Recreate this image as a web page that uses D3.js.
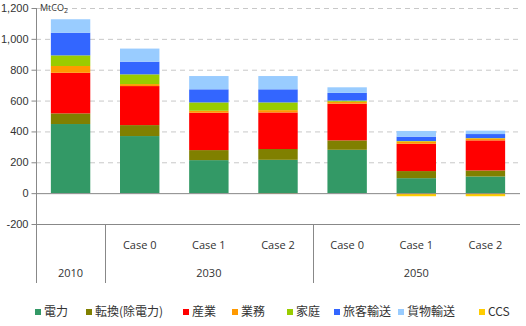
<!DOCTYPE html>
<html>
<head>
<meta charset="utf-8">
<script src="https://cdn.jsdelivr.net/npm/d3@7"></script>
<style>
  body { margin: 0; background: #fff; }
  svg { display: block; font-family: "Open Sans", "Noto Sans CJK JP", sans-serif; }
</style>
</head>
<body>
<div id="chart"></div>
<script>
// categories (year / case)
const categories = ['2010', '2030-0', '2030-1', '2030-2', '2050-0', '2050-1', '2050-2'];
const caseLabels = ['', 'Case 0', 'Case 1', 'Case 2', 'Case 0', 'Case 1', 'Case 2'];
const yearGroups = [
    { label: '2010', from: 0, to: 0 },
    { label: '2030', from: 1, to: 3 },
    { label: '2050', from: 4, to: 6 }
];

// series (MtCO2)
const seriesNames = ['電力', '転換(除電力)', '産業', '業務', '家庭', '旅客輸送', '貨物輸送', 'CCS'];
const denryoku = [448, 370, 214, 216, 281, 97, 108];
const tenkan = [69, 71, 65, 70, 61, 46, 39];
const sangyo = [263, 253, 242, 237, 238, 177, 195];
const gyomu = [44, 13, 13, 15, 12, 15, 13];
const katei = [69, 63, 54, 50, 8, 3, 2];
const ryokaku = [147, 82, 85, 85, 50, 28, 26];
const kamotsu = [87, 85, 86, 86, 36, 37, 22];
const ccs = [0, 0, 0, -4, 0, -20, -20];
const seriesValues = [denryoku, tenkan, sangyo, gyomu, katei, ryokaku, kamotsu, ccs];
const seriesColors = ['#339966', '#808000', '#ff0000', '#ff9900', '#99cc00', '#3366ff', '#99ccff', '#ffcc00'];

const yTicks = [-200, 0, 200, 400, 600, 800, 1000, 1200];

const width = 526, height = 326;
const margin = { top: 8, right: 6, bottom: 102, left: 36 };

const svg = d3.select('#chart').append('svg')
    .attr('width', width)
    .attr('height', height);

const x = d3.scaleBand()
    .domain(categories)
    .range([margin.left, width - margin.right])
    .paddingInner(0.43)
    .paddingOuter(0.215);

const y = d3.scaleLinear()
    .domain([-200, 1200])
    .range([height - margin.bottom, margin.top]);

// table for the stack
const table = categories.map((c, i) => {
    const row = { key: c };
    seriesNames.forEach((s, j) => { row[s] = seriesValues[j][i]; });
    return row;
});

const stacked = d3.stack()
    .keys(seriesNames)
    .offset(d3.stackOffsetDiverging)(table);

// gridlines
svg.append('g')
    .selectAll('line')
    .data(yTicks.filter(t => t > 0))
    .enter()
    .append('line')
    .attr('x1', margin.left)
    .attr('x2', width - margin.right)
    .attr('y1', d => y(d) + 0.5)
    .attr('y2', d => y(d) + 0.5)
    .attr('stroke', '#c8c8c8')
    .attr('stroke-dasharray', '5,4');

// bars
svg.append('g')
    .selectAll('g')
    .data(stacked)
    .enter()
    .append('g')
    .attr('fill', (d, i) => seriesColors[i])
    .selectAll('rect')
    .data(d => d)
    .enter()
    .append('rect')
    .attr('x', d => x(d.data.key))
    .attr('width', x.bandwidth())
    .attr('y', d => y(Math.max(d[0], d[1])))
    .attr('height', d => Math.abs(y(d[0]) - y(d[1])));

// zero line and bottom line
svg.append('line')
    .attr('x1', margin.left).attr('x2', width - margin.right)
    .attr('y1', y(0) + 0.5).attr('y2', y(0) + 0.5)
    .attr('stroke', '#888');

svg.append('line')
    .attr('x1', margin.left).attr('x2', width - margin.right)
    .attr('y1', y(-200) + 0.5).attr('y2', y(-200) + 0.5)
    .attr('stroke', '#888');

// y axis
const yAxis = svg.append('g')
    .attr('transform', `translate(${margin.left + 0.5},0)`)
    .call(d3.axisLeft(y)
        .tickValues(yTicks)
        .tickSize(5)
        .tickPadding(3)
        .tickFormat(d => d3.format(',')(d).replace('−', '-')));
yAxis.select('.domain').remove();
yAxis.selectAll('.tick line').attr('stroke', '#888');
yAxis.selectAll('text')
    .style('font-size', '11px')
    .attr('fill', '#333');

// y axis line extended into category area
const catBottom = 283;
svg.append('line')
    .attr('x1', margin.left + 0.5).attr('x2', margin.left + 0.5)
    .attr('y1', margin.top).attr('y2', catBottom)
    .attr('stroke', '#888');

// group separators
yearGroups.slice(1).forEach(g => {
    const sx = Math.round(x(categories[g.from]) - x.step() * x.paddingInner() / 2) + 0.5;
    svg.append('line')
        .attr('x1', sx).attr('x2', sx)
        .attr('y1', y(-200)).attr('y2', catBottom)
        .attr('stroke', '#888');
});

// case labels
svg.append('g')
    .selectAll('text')
    .data(categories)
    .enter()
    .append('text')
    .attr('x', d => x(d) + x.bandwidth() / 2)
    .attr('y', 249)
    .attr('text-anchor', 'middle')
    .style('font-size', '11px')
    .attr('fill', '#333')
    .text((d, i) => caseLabels[i]);

// year labels
svg.append('g')
    .selectAll('text')
    .data(yearGroups)
    .enter()
    .append('text')
    .attr('x', d => (x(categories[d.from]) + x(categories[d.to]) + x.bandwidth()) / 2)
    .attr('y', 277)
    .attr('text-anchor', 'middle')
    .style('font-size', '11px')
    .attr('fill', '#333')
    .text(d => d.label);

// unit label
const unit = svg.append('text')
    .attr('x', 40)
    .attr('y', 11)
    .style('font-size', '9px')
    .attr('fill', '#333');
unit.append('tspan').text('MtCO');
unit.append('tspan').attr('dy', 2).style('font-size', '7px').text('2');

// legend
const legendX = [35, 86, 183, 232, 287, 334, 398, 479];
const legend = svg.append('g')
    .selectAll('g')
    .data(seriesNames)
    .enter()
    .append('g')
    .attr('transform', (d, i) => `translate(${legendX[i]}, 309)`);

legend.append('rect')
    .attr('width', 6)
    .attr('height', 6)
    .attr('fill', (d, i) => seriesColors[i]);

legend.append('text')
    .attr('x', 9)
    .attr('y', 7)
    .style('font-size', '12px')
    .style('font-family', '"Noto Sans CJK JP", sans-serif')
    .attr('fill', '#333')
    .text(d => d);
</script>
</body>
</html>
